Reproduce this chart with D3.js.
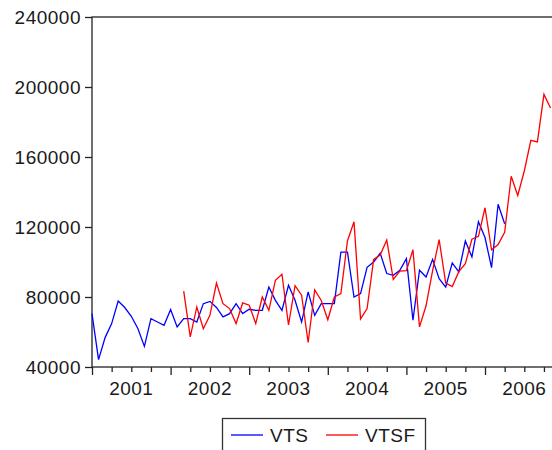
<!DOCTYPE html>
<html lang="en">
<head>
<meta charset="UTF-8">
<title>VTS vs VTSF</title>
<style>
    body { margin: 0; background: #ffffff; }
    svg { display: block; }
    text { font-family: "Liberation Sans", Arial, sans-serif; fill: #1a1a1a; }
</style>
</head>
<body>
<svg width="552" height="450"></svg>
<script src="https://d3js.org/d3.v7.min.js"></script>
<script>
// tick labels
var yearLabels = ["2001", "2002", "2003", "2004", "2005", "2006"];
var yTicks = [40000, 80000, 120000, 160000, 200000, 240000];

// monthly series, VTS starts 2001M01, VTSF starts 2002M03
var vtsStart = 0;
var vts = [70500, 44200, 56800, 64800, 77700, 74000, 69000, 62000, 51800, 67600, 65700, 63800,
           72800, 62900, 67600, 67600, 65700, 76200, 77500, 74000, 68600, 70500, 76200, 70500,
           73000, 72400, 72400, 85700, 78100, 72400, 86700, 78100, 65700, 82900, 69500, 76200,
           76200, 76200, 105700, 105700, 80000, 81900, 97000, 100000, 105000, 93400, 92400, 95300,
           101900, 66700, 95300, 91400, 101500, 90500, 85700, 99500, 94300, 112000, 102900, 123000,
           114000, 96800, 133000, 121900];
var vtsfStart = 14;
var vtsf = [83400, 57200, 74300, 61900, 69500, 88000, 76200, 73400, 64800, 76600,
            75300, 64800, 80000, 72400, 89500, 93000, 64000, 86500, 81000, 54000, 84000, 78000,
            67000, 80000, 82000, 112000, 123000, 67500, 73400, 101500, 104000, 112600, 90000, 94800,
            95000, 107000, 62900, 75000, 95000, 112800, 88000, 86000, 94500, 99000, 113000, 114700,
            131000, 107000, 110000, 117000, 149000, 138000, 152000, 169500, 168600, 195800, 188000];

var svg = d3.select("svg");
var plotLeft = 92, plotTop = 17, plotBottom = 367, monthW = 6.55;
var nMonths = yearLabels.length * 12;

var x = d3.scaleLinear().domain([0, nMonths]).range([plotLeft, plotLeft + nMonths * monthW]);
var y = d3.scaleLinear().domain([40000, 240000]).range([plotBottom, plotTop]);

// frame
svg.append("rect")
    .attr("x", x(0)).attr("y", plotTop)
    .attr("width", x(nMonths) - x(0)).attr("height", plotBottom - plotTop)
    .attr("fill", "none").attr("stroke", "#222").attr("stroke-width", 1.3);

// y axis
var yAxis = svg.append("g")
    .attr("transform", "translate(" + plotLeft + ",0)")
    .call(d3.axisLeft(y).tickValues(yTicks).tickSize(7).tickPadding(4).tickFormat(d3.format("d")));
yAxis.select(".domain").remove();
yAxis.selectAll("line").attr("stroke", "#222").attr("stroke-width", 1.3);
yAxis.selectAll("text").attr("font-size", "19px").attr("letter-spacing", "0.5px")
    .attr("font-family", "Liberation Sans, Arial, sans-serif").attr("fill", "#1a1a1a");

// x axis, quarterly ticks, longer at each year
var xAxis = svg.append("g")
    .attr("transform", "translate(0," + plotBottom + ")")
    .call(d3.axisBottom(x).tickValues(d3.range(0, nMonths + 1, 3)).tickSize(5).tickFormat(""));
xAxis.select(".domain").remove();
xAxis.selectAll(".tick line")
    .attr("stroke", "#222").attr("stroke-width", 1.3)
    .attr("y2", function(d) { return d % 12 === 0 ? 8 : 5; });

svg.append("g").selectAll("text")
    .data(yearLabels)
    .enter().append("text")
    .attr("x", function(d, i) { return x(i * 12 + 6); })
    .attr("y", 395)
    .attr("text-anchor", "middle")
    .attr("font-size", "19px")
    .attr("letter-spacing", "0.5px")
    .text(function(d) { return d; });

// lines
var line = d3.line()
    .x(function(d) { return x(d.m); })
    .y(function(d) { return y(d.v); });

function toPoints(arr, start) {
    return arr.map(function(v, i) { return {m: start + i, v: v}; });
}

svg.append("path")
    .datum(toPoints(vts, vtsStart))
    .attr("fill", "none").attr("stroke", "#0000ff").attr("stroke-width", 1.3)
    .attr("d", line);

svg.append("path")
    .datum(toPoints(vtsf, vtsfStart))
    .attr("fill", "none").attr("stroke", "#ff0000").attr("stroke-width", 1.3)
    .attr("d", line);

// legend
var legend = svg.append("g");
legend.append("rect")
    .attr("x", 222.5).attr("y", 418.5).attr("width", 203).attr("height", 50)
    .attr("fill", "#fff").attr("stroke", "#333").attr("stroke-width", 1.3);
var items = [{name: "VTS", color: "#0000ff", x: 231}, {name: "VTSF", color: "#ff0000", x: 326}];
items.forEach(function(it) {
    legend.append("line")
        .attr("x1", it.x).attr("x2", it.x + 32).attr("y1", 435).attr("y2", 435)
        .attr("stroke", it.color).attr("stroke-width", 1.3);
    legend.append("text")
        .attr("x", it.x + 39).attr("y", 442)
        .attr("font-size", "19px").attr("letter-spacing", "0.5px")
        .text(it.name);
});
</script>
</body>
</html>
